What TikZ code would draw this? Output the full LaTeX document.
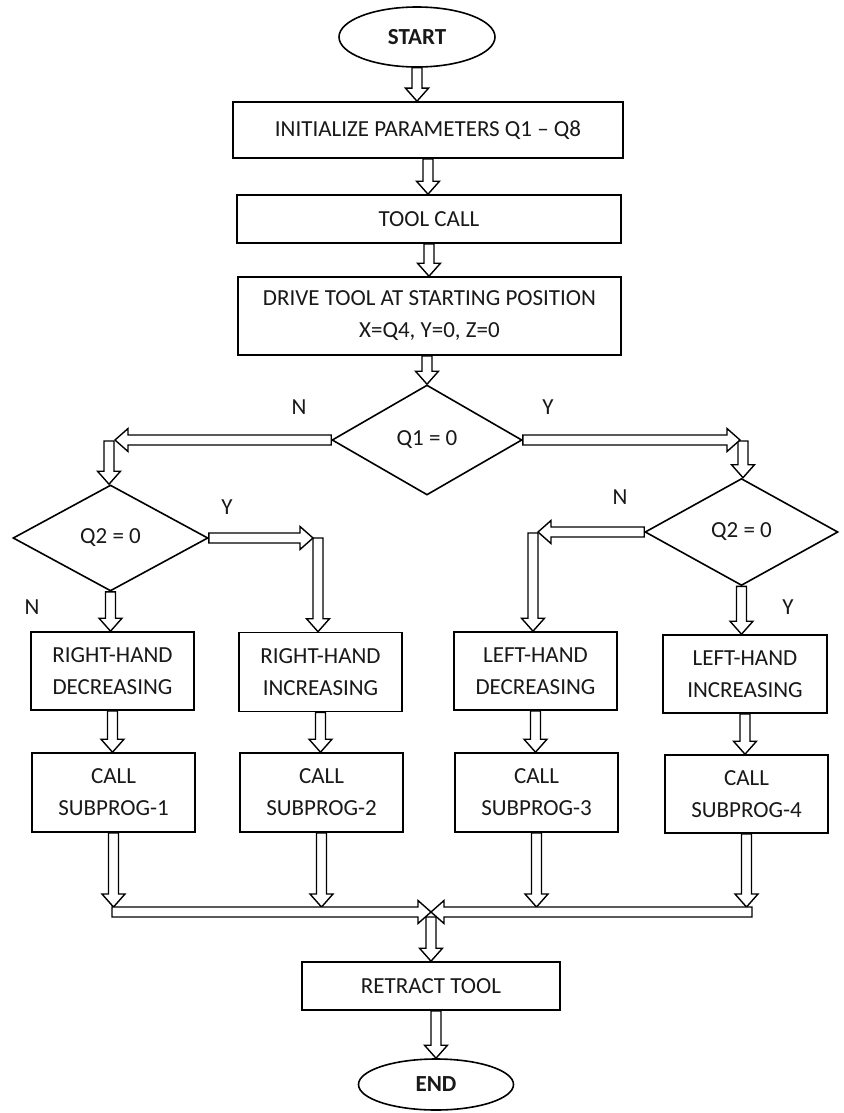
\documentclass[tikz,border=0pt]{standalone}
\usepackage{fontspec}
\setmainfont{Carlito}
\usetikzlibrary{shapes.geometric,calc}
\def\sw{5pt}
\def\hw{11.5pt}
\def\hl{13pt}
\tikzset{
  txt/.style={font=\fontsize{23}{32}\selectfont, text=black!90},
  box/.style={txt, draw, line width=1.6pt, rectangle, inner sep=0pt, align=center},
  term/.style={txt, draw, line width=1.6pt, ellipse, inner sep=0pt},
  dec/.style={txt, draw, line width=1.6pt, diamond, inner sep=0pt},
  lbl/.style={txt, inner sep=0pt},
  blk/.style={draw=black, line width=1.4pt, fill=white, line join=miter},
  blkd/.style={blk, to path={let \p1=(\tikztostart), \p2=(\tikztotarget) in
      (\x1-\sw,\y1) -- (\x1-\sw,\y2+\hl) -- (\x1-\hw,\y2+\hl) -- (\x1,\y2)
      -- (\x1+\hw,\y2+\hl) -- (\x1+\sw,\y2+\hl) -- (\x1+\sw,\y1) -- cycle}},
  blkr/.style={blk, to path={let \p1=(\tikztostart), \p2=(\tikztotarget) in
      (\x1,\y1-\sw) -- (\x2-\hl,\y1-\sw) -- (\x2-\hl,\y1-\hw) -- (\x2,\y1)
      -- (\x2-\hl,\y1+\hw) -- (\x2-\hl,\y1+\sw) -- (\x1,\y1+\sw) -- cycle}},
  blkl/.style={blk, to path={let \p1=(\tikztostart), \p2=(\tikztotarget) in
      (\x1,\y1-\sw) -- (\x2+\hl,\y1-\sw) -- (\x2+\hl,\y1-\hw) -- (\x2,\y1)
      -- (\x2+\hl,\y1+\hw) -- (\x2+\hl,\y1+\sw) -- (\x1,\y1+\sw) -- cycle}},
}
\begin{document}
\begin{tikzpicture}[x=1pt,y=-1pt]
\path[use as bounding box, fill=white] (0,0) rectangle (843,1113);

% nodes
\node[term, minimum width=156, minimum height=60] (start) at (417,37) {\bfseries START};
\node[box, minimum width=390, minimum height=56] (init) at (428,130) {INITIALIZE PARAMETERS Q1 -- Q8};
\node[box, minimum width=384, minimum height=48] (tool) at (429,219) {TOOL CALL};
\node[box, minimum width=383, minimum height=78] (drive) at (429.5,316) {DRIVE TOOL AT STARTING POSITION\\X=Q4, Y=0, Z=0};
\node[dec, minimum width=190, minimum height=110] (q1) at (427,440) {Q1 = 0};
\node[dec, minimum width=195, minimum height=106] (q2l) at (110.5,538) {Q2 = 0};
\node[dec, minimum width=193, minimum height=107] (q2r) at (741.5,532) {Q2 = 0};

\node[box, minimum width=163, minimum height=78] (rhdec) at (112.5,671) {RIGHT-HAND\\DECREASING};
\node[box, minimum width=163, minimum height=79] (rhinc) at (320.5,672) {RIGHT-HAND\\INCREASING};
\node[box, minimum width=163, minimum height=78] (lhdec) at (535.5,671) {LEFT-HAND\\DECREASING};
\node[box, minimum width=164, minimum height=78] (lhinc) at (745,674) {LEFT-HAND\\INCREASING};

\node[box, minimum width=163, minimum height=79] (call1) at (113.5,792.5) {CALL\\SUBPROG-1};
\node[box, minimum width=163, minimum height=79] (call2) at (321.5,792.5) {CALL\\SUBPROG-2};
\node[box, minimum width=163, minimum height=79] (call3) at (536.5,792.5) {CALL\\SUBPROG-3};
\node[box, minimum width=163, minimum height=78] (call4) at (746.5,794) {CALL\\SUBPROG-4};

\node[box, minimum width=258, minimum height=48] (retract) at (431,986) {RETRACT TOOL};
\node[term, minimum width=155, minimum height=51] (end) at (436,1084.5) {\bfseries END};

% labels
\node[lbl] (n1) at (299,407) {N};
\node[lbl] (y1) at (548,407) {Y};
\node[lbl] (y2) at (227,507) {Y};
\node[lbl] (n2) at (32,607) {N};
\node[lbl] (n3) at (620,497) {N};
\node[lbl] (y3) at (788,607) {Y};

% free corners
\coordinate (kL) at (109,441);
\coordinate (kLt) at (115,440);
\coordinate (kR) at (743,441);
\coordinate (kRt) at (740,440);
\coordinate (k2) at (318,538);
\coordinate (k2t) at (313,538);
\coordinate (k3) at (533,533);
\coordinate (k3t) at (538,532);
\coordinate (mtop) at (431,907);
\coordinate (mL) at (112,912);
\coordinate (mR) at (752,912);
\coordinate (mC) at (431,912);
\coordinate (mCb) at (431,917);

% main column
\path[blkd] (start.south) to (start.south |- init.north);
\path[blkd] (init.south) to (init.south |- tool.north);
\path[blkd] (tool.south) to (tool.south |- drive.north);
\path[blkd] (q1.north |- drive.south) to (q1.north);

% Q1 branches
\path[blkd] (kL) to (kL |- q2l.north);
\path[blkl] (q1.west) to (kLt);
\path[blkd] (kR) to (kR |- q2r.north);
\path[blkr] (q1.east) to (kRt);

% Q2 left branches
\path[blkd] (k2) to (k2 |- rhinc.north);
\path[blkr] (q2l.east) to (k2t);
\path[blkd] (q2l.south) to (q2l.south |- rhdec.north);

% Q2 right branches
\path[blkd] (k3) to (k3 |- lhdec.north);
\path[blkl] (q2r.west) to (k3t);
\path[blkd] (q2r.south) to (q2r.south |- lhinc.north);

% to call boxes
\path[blkd] (rhdec.south) to (rhdec.south |- call1.north);
\path[blkd] (rhinc.south) to (rhinc.south |- call2.north);
\path[blkd] (lhdec.south) to (lhdec.south |- call3.north);
\path[blkd] (lhinc.south) to (lhinc.south |- call4.north);

% to merge bar
\path[blkd] (call1.south) to (call1.south |- mtop);
\path[blkd] (call2.south) to (call2.south |- mtop);
\path[blkd] (call3.south) to (call3.south |- mtop);
\path[blkd] (call4.south) to (call4.south |- mtop);

\path[blkd] (mCb) to (mCb |- retract.north);
\path[blkr] (mL) to (mC);
\path[blkl] (mR) to (mC);

\path[blkd] (end.north |- retract.south) to (end.north);
\end{tikzpicture}
\end{document}
